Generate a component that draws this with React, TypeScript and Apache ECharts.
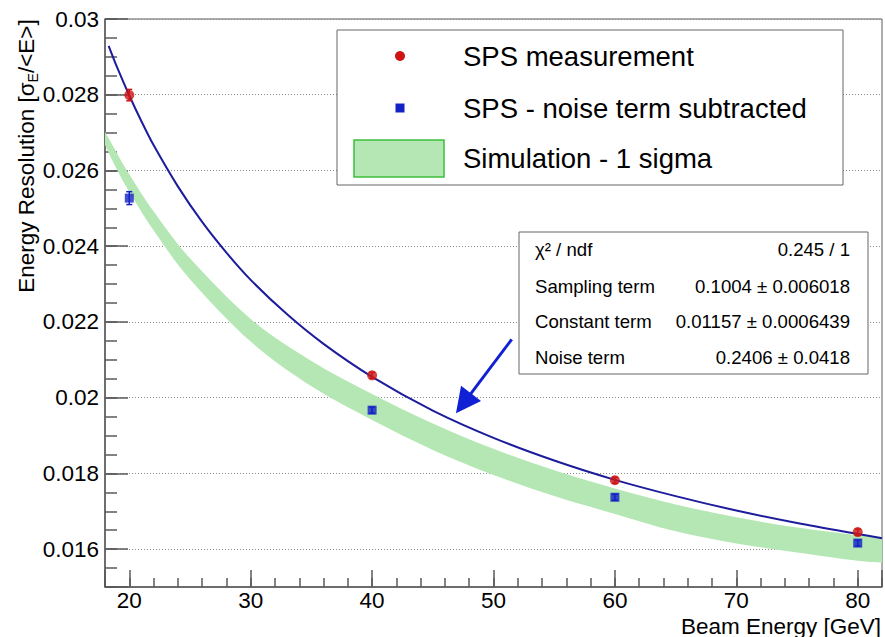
import React, { useEffect, useRef } from 'react';
import * as echarts from 'echarts';

// ---- data ----
const beamEnergy = [20, 40, 60, 80];
const spsMeasured = [0.02799, 0.02059, 0.01782, 0.01645];
const spsMeasuredErr = [0.00015, 0.00008, 0.00008, 0.00008];
const spsNoiseSub = [0.02527, 0.01967, 0.01737, 0.01616];
const spsNoiseSubErr = [0.00017, 0.00008, 0.00008, 0.00008];

// fitted resolution curve
const fitEnergy = [18.3, 19, 20, 21, 22, 24, 26, 28, 30, 33, 36, 40, 45, 50, 55, 60, 65, 70, 75, 80, 82];
const fitResolution = [0.02929, 0.02872, 0.02798, 0.0273, 0.02667, 0.02558, 0.02464, 0.02383, 0.02311, 0.0222, 0.02142, 0.02055, 0.01966, 0.01894, 0.01834, 0.01783, 0.0174, 0.01702, 0.01669, 0.0164, 0.01629];

// simulation 1-sigma band
const simEnergy = [18, 19, 20, 22, 25, 30, 35, 40, 45, 50, 55, 60, 65, 70, 75, 80, 82];
const simUpper = [0.02702, 0.02645, 0.0259, 0.02492, 0.02368, 0.02208, 0.02097, 0.0201, 0.01932, 0.01865, 0.01808, 0.0176, 0.01718, 0.01684, 0.01657, 0.01637, 0.01632];
const simLower = [0.02667, 0.02601, 0.02544, 0.02442, 0.02313, 0.02148, 0.0203, 0.01941, 0.01862, 0.01796, 0.0174, 0.01693, 0.01647, 0.01615, 0.01591, 0.01569, 0.01564];

// annotation arrow (data coordinates)
const arrowFrom = [51.5, 0.02154];
const arrowTo = [47.53, 0.01985];

const legendLabels = ['SPS measurement', 'SPS - noise term subtracted', 'Simulation - 1 sigma'];
const statNames = ['χ² / ndf', 'Sampling term', 'Constant term', 'Noise term'];
const statValues = ['0.245 / 1', '0.1004 ± 0.006018', '0.01157 ± 0.0006439', '0.2406 ± 0.0418'];
const xTitle = 'Beam Energy [GeV]';

const FONT = '"Liberation Sans", Arial, Helvetica, sans-serif';
const AXIS = '#5a5a5a';
const RED = '#cc1414';
const BLUE = '#1222c4';
const CURVE = '#1c1c9c';
const ARROW = '#1020d4';
const BAND = '#b4e7b4';

// Catmull-Rom smoothed path segments through pixel points (excluding initial move)
function smoothSegments(p: number[][]): string {
  let d = '';
  const n = p.length;
  for (let i = 0; i < n - 1; i++) {
    const p0 = p[Math.max(0, i - 1)];
    const p1 = p[i];
    const p2 = p[i + 1];
    const p3 = p[Math.min(n - 1, i + 2)];
    const c1x = p1[0] + (p2[0] - p0[0]) / 6;
    const c1y = p1[1] + (p2[1] - p0[1]) / 6;
    const c2x = p2[0] - (p3[0] - p1[0]) / 6;
    const c2y = p2[1] - (p3[1] - p1[1]) / 6;
    d += ` C ${c1x} ${c1y} ${c2x} ${c2y} ${p2[0]} ${p2[1]}`;
  }
  return d;
}

function errorBars(values: number[], errs: number[], color: string) {
  return {
    type: 'custom',
    xAxisIndex: 0,
    yAxisIndex: 0,
    silent: true,
    z: 4,
    encode: { x: 0, y: 1 },
    data: beamEnergy.map((e, i) => [e, values[i], errs[i]]),
    renderItem: (_p: any, api: any) => {
      const x = api.value(0);
      const y = api.value(1);
      const err = api.value(2);
      const top = api.coord([x, y + err]);
      const bot = api.coord([x, y - err]);
      const w = 3;
      const style = { stroke: color, lineWidth: 1.5 };
      return {
        type: 'group',
        children: [
          { type: 'line', shape: { x1: top[0], y1: top[1], x2: bot[0], y2: bot[1] }, style },
          { type: 'line', shape: { x1: top[0] - w, y1: top[1], x2: top[0] + w, y2: top[1] }, style },
          { type: 'line', shape: { x1: bot[0] - w, y1: bot[1], x2: bot[0] + w, y2: bot[1] }, style },
        ],
      };
    },
  };
}

function txt(text: string, x: number, y: number, size: number, align: string, extra: any = {}) {
  return {
    type: 'text',
    x,
    y,
    z: 100,
    style: {
      text,
      fontSize: size,
      fontFamily: FONT,
      fill: '#000',
      align,
      textAlign: align,
      verticalAlign: 'middle',
      textVerticalAlign: 'middle',
      ...extra,
    },
  };
}

export default function App() {
  const ref = useRef<HTMLDivElement>(null);

  useEffect(() => {
    document.body.style.margin = '0';
    const chart = echarts.init(ref.current!, null, { renderer: 'svg' });

    const tickStyle = { color: AXIS, width: 1.5 };

    const legendRows = [56, 108, 158.5];
    const statRows = [249.5, 286.5, 321.5, 357];

    const option: any = {
      animation: false,
      backgroundColor: '#ffffff',
      grid: {
        left: 105,
        top: 19,
        right: 3,
        bottom: 50,
        show: true,
        borderColor: AXIS,
        borderWidth: 1,
        backgroundColor: 'transparent',
      },
      xAxis: [
        {
          type: 'value',
          min: 18,
          max: 82,
          interval: 2,
          position: 'bottom',
          axisLine: { show: true, onZero: false, lineStyle: tickStyle },
          axisTick: { show: true, inside: true, length: 9, lineStyle: tickStyle },
          axisLabel: { show: false },
          splitLine: { show: false },
        },
        {
          type: 'value',
          min: 18,
          max: 82,
          minInterval: 10,
          maxInterval: 10,
          splitNumber: 6,
          position: 'bottom',
          axisLine: { show: false, onZero: false },
          axisTick: { show: true, inside: true, length: 17, lineStyle: tickStyle },
          axisLabel: {
            show: true,
            margin: 4.5,
            lineHeight: 18,
            fontSize: 22.5,
            fontFamily: FONT,
            color: '#000',
            formatter: (v: number) => (Math.abs(v % 10) < 1e-9 ? String(v) : ''),
          },
          splitLine: { show: false },
        },
      ],
      yAxis: [
        {
          type: 'value',
          min: 0.015,
          max: 0.03,
          interval: 0.0005,
          position: 'left',
          axisLine: { show: true, onZero: false, lineStyle: tickStyle },
          axisTick: { show: true, inside: true, length: 12, lineStyle: tickStyle },
          axisLabel: { show: false },
          splitLine: { show: false },
        },
        {
          type: 'value',
          min: 0.015,
          max: 0.03,
          minInterval: 0.002,
          maxInterval: 0.002,
          splitNumber: 7,
          position: 'left',
          axisLine: { show: false, onZero: false },
          axisTick: { show: true, inside: true, length: 23, lineStyle: tickStyle },
          axisLabel: {
            show: true,
            margin: 6,
            fontSize: 22.5,
            fontFamily: FONT,
            color: '#000',
            formatter: (v: number) => {
              const k = Math.round(v / 0.002);
              return Math.abs(v - k * 0.002) < 1e-9 ? String(+v.toFixed(3)) : '';
            },
          },
          splitLine: { show: true, lineStyle: { color: '#8a8a8a', width: 1, type: [1, 2] } },
        },
      ],
      series: [
        {
          type: 'custom',
          name: 'Simulation - 1 sigma',
          xAxisIndex: 0,
          yAxisIndex: 0,
          silent: true,
          z: 1,
          encode: { x: 0, y: 1 },
          data: [[simEnergy[0], simUpper[0]]],
          renderItem: (_p: any, api: any) => {
            const up = simEnergy.map((e, i) => api.coord([e, simUpper[i]]));
            const lo = simEnergy.map((e, i) => api.coord([e, simLower[i]])).reverse();
            const d =
              `M ${up[0][0]} ${up[0][1]}` +
              smoothSegments(up) +
              ` L ${lo[0][0]} ${lo[0][1]}` +
              smoothSegments(lo) +
              ' Z';
            return { type: 'path', shape: { pathData: d }, style: { fill: BAND, stroke: null } };
          },
        },
        {
          type: 'line',
          name: 'Fit',
          xAxisIndex: 0,
          yAxisIndex: 0,
          z: 3,
          silent: true,
          showSymbol: false,
          symbol: 'none',
          smooth: 0.3,
          data: fitEnergy.map((e, i) => [e, fitResolution[i]]),
          lineStyle: { color: CURVE, width: 2 },
          markLine: {
            silent: true,
            animation: false,
            symbol: ['none', 'triangle'],
            symbolSize: 25,
            label: { show: false },
            emphasis: { disabled: true },
            lineStyle: { color: ARROW, width: 3, type: 'solid' },
            data: [[{ coord: arrowFrom }, { coord: arrowTo }]],
          },
        },
        errorBars(spsMeasured, spsMeasuredErr, RED),
        errorBars(spsNoiseSub, spsNoiseSubErr, BLUE),
        {
          type: 'scatter',
          name: 'SPS measurement',
          xAxisIndex: 0,
          yAxisIndex: 0,
          z: 5,
          silent: true,
          symbol: 'circle',
          symbolSize: 10,
          itemStyle: { color: RED },
          data: beamEnergy.map((e, i) => [e, spsMeasured[i]]),
        },
        {
          type: 'scatter',
          name: 'SPS - noise term subtracted',
          xAxisIndex: 0,
          yAxisIndex: 0,
          z: 5,
          silent: true,
          symbol: 'rect',
          symbolSize: 9,
          itemStyle: { color: BLUE },
          data: beamEnergy.map((e, i) => [e, spsNoiseSub[i]]),
        },
      ],
      graphic: [
        // legend box
        {
          type: 'rect',
          z: 90,
          shape: { x: 337, y: 30, width: 506, height: 155 },
          style: { fill: '#fff', stroke: '#666', lineWidth: 1 },
        },
        { type: 'circle', z: 95, shape: { cx: 400, cy: legendRows[0], r: 5 }, style: { fill: RED } },
        { type: 'rect', z: 95, shape: { x: 395.5, y: legendRows[1] - 4.5, width: 9, height: 9 }, style: { fill: BLUE } },
        {
          type: 'rect',
          z: 95,
          shape: { x: 354, y: 140, width: 90, height: 37 },
          style: { fill: BAND, stroke: '#3cc03c', lineWidth: 1.5 },
        },
        txt(legendLabels[0], 463, legendRows[0], 27.5, 'left'),
        txt(legendLabels[1], 463, legendRows[1], 27.5, 'left'),
        txt(legendLabels[2], 463, legendRows[2], 27.5, 'left'),
        // stats box
        {
          type: 'rect',
          z: 90,
          shape: { x: 519, y: 232, width: 349, height: 142 },
          style: { fill: '#fff', stroke: '#666', lineWidth: 1 },
        },
        ...statNames.map((s, i) => txt(s, 535, statRows[i], 18.6, 'left')),
        ...statValues.map((s, i) => txt(s, 850, statRows[i], 18.6, 'right')),
        // axis titles
        txt(xTitle, 881, 626, 22.5, 'right', { lineHeight: 20 }),
        {
          type: 'text',
          x: 26,
          y: 156,
          rotation: Math.PI / 2,
          z: 100,
          style: {
            text: '{n|Energy Resolution [σ}{s|E}{n|/<E>]}',
            fill: '#000',
            align: 'center',
            textAlign: 'center',
            verticalAlign: 'middle',
            textVerticalAlign: 'middle',
            rich: {
              n: { fontSize: 22.5, fontFamily: FONT, fill: '#000', lineHeight: 28 },
              s: { fontSize: 14, fontFamily: FONT, fill: '#000', lineHeight: 14, verticalAlign: 'bottom' },
            },
          },
        },
      ],
    };

    chart.setOption(option);
    return () => chart.dispose();
  }, []);

  return <div ref={ref} style={{ width: 885, height: 637, background: '#fff' }} />;
}
